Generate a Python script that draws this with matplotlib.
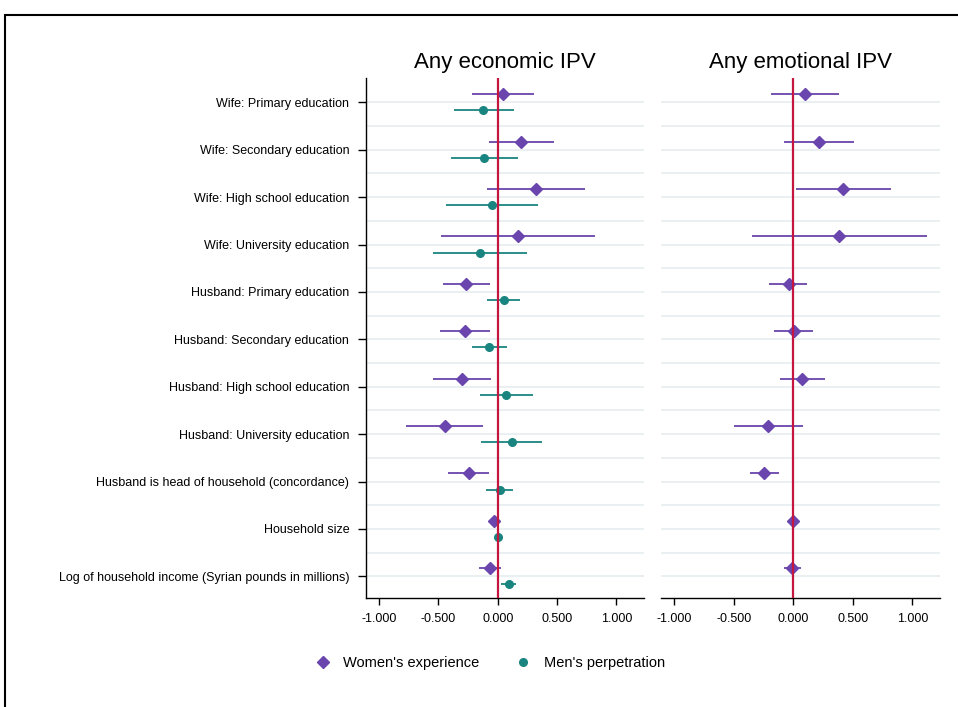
import numpy as np
import matplotlib.pyplot as plt
from matplotlib.patches import Rectangle

plt.rcParams['font.family'] = ['Liberation Sans', 'DejaVu Sans']

# Etiquetas das variáveis (de cima para baixo)
labels = [
    'Wife: Primary education',
    'Wife: Secondary education',
    'Wife: High school education',
    'Wife: University education',
    'Husband: Primary education',
    'Husband: Secondary education',
    'Husband: High school education',
    'Husband: University education',
    'Husband is head of household (concordance)',
    'Household size',
    'Log of household income (Syrian pounds in millions)',
]

# Any economic IPV - experiência das mulheres
econ_w = [0.045, 0.196, 0.319, 0.174, -0.266, -0.277, -0.305, -0.445, -0.246, -0.034, -0.062]
econ_w_lo = [-0.216, -0.076, -0.092, -0.479, -0.462, -0.485, -0.549, -0.770, -0.420, -0.050, -0.157]
econ_w_hi = [0.308, 0.473, 0.734, 0.821, -0.064, -0.064, -0.059, -0.123, -0.073, -0.018, 0.031]

# Any economic IPV - perpetração dos homens
econ_m = [-0.120, -0.112, -0.050, -0.146, 0.050, -0.070, 0.073, 0.118, 0.020, 0.000, 0.098]
econ_m_lo = [-0.372, -0.392, -0.440, -0.546, -0.087, -0.221, -0.146, -0.137, -0.098, -0.010, 0.031]
econ_m_hi = [0.134, 0.168, 0.339, 0.249, 0.185, 0.078, 0.294, 0.373, 0.132, 0.010, 0.157]

# Any emotional IPV - experiência das mulheres
emo_w = [0.098, 0.218, 0.420, 0.387, -0.039, 0.003, 0.076, -0.210, -0.244, -0.003, -0.008]
emo_w_lo = [-0.185, -0.076, 0.025, -0.345, -0.202, -0.160, -0.109, -0.496, -0.367, -0.013, -0.078]
emo_w_hi = [0.384, 0.507, 0.818, 1.120, 0.118, 0.165, 0.263, 0.078, -0.118, 0.007, 0.061]

titles = ['Any economic IPV', 'Any emotional IPV']
xticks = [-1.0, -0.5, 0.0, 0.5, 1.0]

c_w = '#6a45ad'
c_m = '#1a8580'
c_zero = '#c4163f'
c_grid = '#e6eef0'

fig = plt.figure(figsize=(9.58, 7.07), dpi=100)
ax1 = fig.add_axes([0.382, 0.154, 0.290, 0.7355])
ax2 = fig.add_axes([0.690, 0.154, 0.291, 0.7355])

y = np.arange(1, len(labels) + 1)
off = 0.17

def desenha(ax, est, lo, hi, yy, cor, marker, ms):
    est = np.array(est); lo = np.array(lo); hi = np.array(hi)
    ax.hlines(yy, lo, hi, color=cor, lw=1.3, zorder=3)
    ax.plot(est, yy, linestyle='none', marker=marker, ms=ms, color=cor, zorder=4)

desenha(ax1, econ_w, econ_w_lo, econ_w_hi, y - off, c_w, 'D', 6.5)
desenha(ax1, econ_m, econ_m_lo, econ_m_hi, y + off, c_m, 'o', 5.5)
desenha(ax2, emo_w, emo_w_lo, emo_w_hi, y - off, c_w, 'D', 6.5)

for ax, t in zip([ax1, ax2], titles):
    ax.set_xlim(-1.11, 1.23)
    ax.set_ylim(11.46, 0.49)
    for g in np.arange(1, 11.01, 0.5):
        ax.axhline(g, color=c_grid, lw=1.2, zorder=1)
    ax.axvline(0, color=c_zero, lw=1.6, zorder=5)
    ax.set_xticks(xticks)
    ax.set_xticklabels(['%.3f' % v for v in xticks], fontsize=9)
    ax.tick_params(axis='x', direction='out', length=5, width=1, pad=6)
    ax.spines['top'].set_visible(False)
    ax.spines['right'].set_visible(False)
    ax.spines['bottom'].set_linewidth(1)
    ax.set_title(t, fontsize=16, pad=7)

ax1.set_yticks(y)
ax1.set_yticklabels(labels, fontsize=9)
ax1.tick_params(axis='y', direction='out', length=6, width=1, pad=6)
ax1.spines['left'].set_linewidth(1)

ax2.spines['left'].set_visible(False)
ax2.set_yticks([])

# Legenda
h1 = plt.Line2D([], [], linestyle='none', marker='D', ms=6.5, color=c_w)
h2 = plt.Line2D([], [], linestyle='none', marker='o', ms=5.5, color=c_m)
fig.legend([h1, h2], ["Women's experience", "Men's perpetration"],
           loc='center', bbox_to_anchor=(0.508, 0.062), ncol=2, frameon=False,
           fontsize=10.5, columnspacing=2.0, handletextpad=0.4)

# Moldura externa
fig.add_artist(Rectangle((5 / 958, -0.1), 1.2, 1 - 15 / 707 + 0.1,
                         transform=fig.transFigure, fill=False,
                         edgecolor='black', lw=1.5))

fig.savefig('out.png', dpi=100)
